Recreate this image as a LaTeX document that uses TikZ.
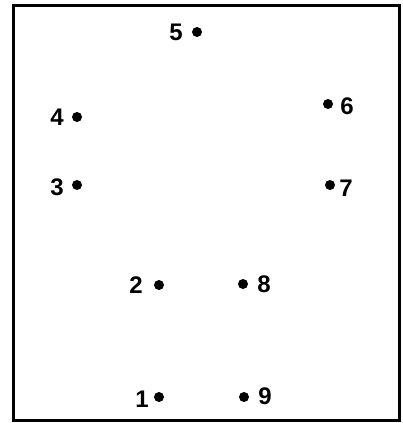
\documentclass[tikz,border=0pt]{standalone}
\usepackage{fontspec}
\setmainfont{Liberation Sans}
\begin{document}
\begin{tikzpicture}[x=1pt,y=-1pt,
  pt/.style={circle,fill=black,inner sep=0pt,minimum size=10pt},
  lab/.style={inner sep=0pt,font=\fontsize{24}{24}\selectfont\bfseries}]
\useasboundingbox (0,0) rectangle (403,423);
\draw[line width=3pt] (13,5) rectangle (399,420);
\node[pt] (p5) at (197,32) {};
\node[lab] (l5) at (176,32) {5};
\node[pt] (p4) at (77,117) {};
\node[lab] (l4) at (57,117) {4};
\node[pt] (p6) at (328,104) {};
\node[lab] (l6) at (347,106) {6};
\node[pt] (p3) at (77,185) {};
\node[lab] (l3) at (57,187) {3};
\node[pt] (p7) at (330,185) {};
\node[lab] (l7) at (346,188) {7};
\node[pt] (p2) at (159,285) {};
\node[lab] (l2) at (136,285) {2};
\node[pt] (p8) at (243,284) {};
\node[lab] (l8) at (264,284) {8};
\node[pt] (p1) at (159,397) {};
\node[lab] (l1) at (142,399) {1};
\node[pt] (p9) at (244,397) {};
\node[lab] (l9) at (265,396) {9};
\end{tikzpicture}
\end{document}
